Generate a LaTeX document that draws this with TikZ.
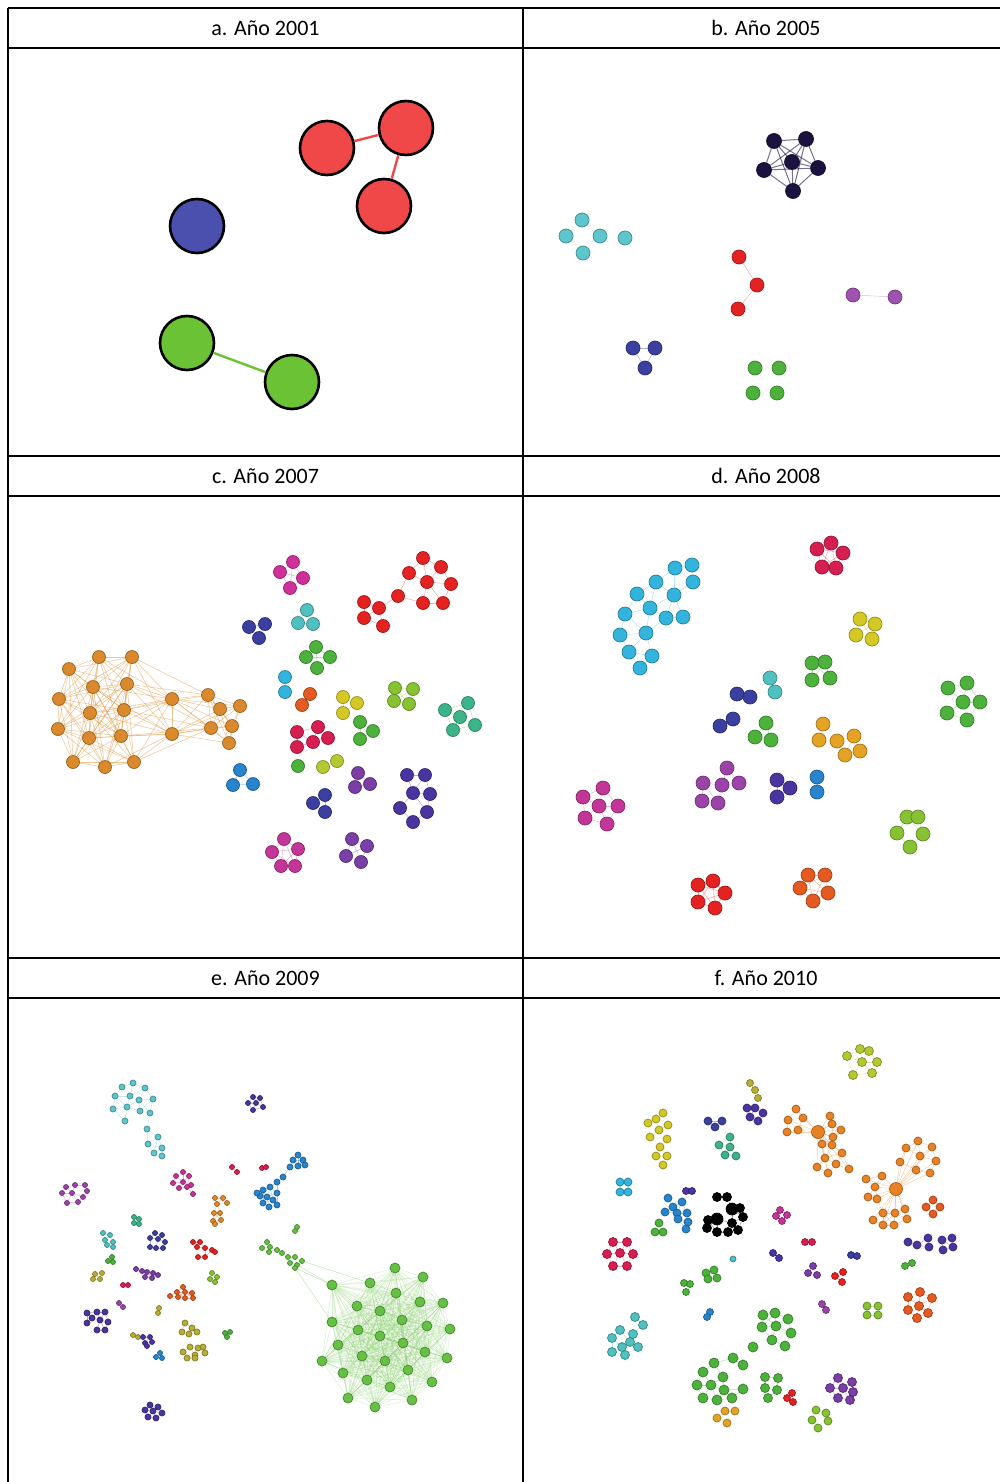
\documentclass[tikz,border=0pt]{standalone}
\usepackage{fontspec}
\setmainfont{Carlito}
\usepackage{tikz}
\pgfdeclarelayer{background}
\pgfsetlayers{background,main}

\definecolor{aRed}{HTML}{F04848}
\definecolor{aBlue}{HTML}{4B50AE}
\definecolor{aGreen}{HTML}{6CC235}
\definecolor{nNavy}{HTML}{1C1240}
\definecolor{nCyan}{HTML}{5CC6CC}
\definecolor{nRed}{HTML}{E52222}
\definecolor{nMag}{HTML}{A052B0}
\definecolor{nBlue}{HTML}{3A3FA0}
\definecolor{nGreen}{HTML}{4CB23C}
\definecolor{nOrange}{HTML}{DA8A2C}
\definecolor{nPink}{HTML}{D0309A}
\definecolor{nTeal}{HTML}{50C0C0}
\definecolor{nSky}{HTML}{33B4DD}
\definecolor{nVerm}{HTML}{E45A20}
\definecolor{nYellow}{HTML}{D4C824}
\definecolor{nLime}{HTML}{86C232}
\definecolor{nSea}{HTML}{3CB489}
\definecolor{nCrim}{HTML}{D61F50}
\definecolor{nYG}{HTML}{B5C832}
\definecolor{nAzure}{HTML}{2884CC}
\definecolor{nPurple}{HTML}{7A3EA6}
\definecolor{nViolet}{HTML}{9A44A8}
\definecolor{nIndigo}{HTML}{4A34A0}
\definecolor{nMagenta}{HTML}{C43598}
\definecolor{nGold}{HTML}{E4A324}
\definecolor{nOlive}{HTML}{B8AE34}
\definecolor{nFlame}{HTML}{E88224}
\definecolor{nGrass}{HTML}{66C044}

\tikzset{
  dot/.style={circle, inner sep=0pt, fill=#1, draw=#1!70!black, line width=0.7pt},
  bigdot/.style={circle, inner sep=0pt, minimum size=54pt, fill=#1, draw=black, line width=2.6pt},
  link/.style={draw=#1, line width=0.5pt, opacity=0.4},
  biglink/.style={draw=#1, line width=2.4pt},
  rule/.style={line width=1.1pt},
  head/.style={font=\fontsize{22}{26}\selectfont, inner sep=0pt}
}

% [#1 link options] #2 name, #3 colour, #4 size, #5 link range, #6 x/y list
\newcommand{\grp}[6][]{%
  \foreach [count=\i] \xa/\ya in {#6} {\node[dot=#3, minimum size=#4pt] (#2-\i) at (\xa,\ya) {};}
  \begin{pgfonlayer}{background}
  \foreach [count=\i] \xa/\ya in {#6} {
    \foreach [count=\j] \xb/\yb in {#6} {
      \ifnum\j>\i
        \pgfmathsetmacro{\dd}{veclen(\xa-\xb,\ya-\yb)}
        \ifdim\dd pt<#5pt \draw[link=#3, #1] (#2-\i) -- (#2-\j); \fi
      \fi
    }
  }
  \end{pgfonlayer}
}

\begin{document}
\begin{tikzpicture}[x=1pt,y=-1pt]
\useasboundingbox (0,0) rectangle (1000,1482);

\draw[rule] (8,8) -- (1000,8);
\draw[rule] (8,48) -- (1000,48);
\draw[rule] (8,456) -- (1000,456);
\draw[rule] (8,496) -- (1000,496);
\draw[rule] (8,958) -- (1000,958);
\draw[rule] (8,998) -- (1000,998);
\draw[rule] (8,8) -- (8,1482);
\draw[rule] (523,8) -- (523,1482);

\node[head] (ha) at (265.5,28) {a. Año 2001};
\node[head] (hb) at (766,28) {b. Año 2005};
\node[head] (hc) at (265.5,476) {c. Año 2007};
\node[head] (hd) at (766,476) {d. Año 2008};
\node[head] (he) at (265.5,978) {e. Año 2009};
\node[head] (hf) at (766,978) {f. Año 2010};

% a
\node[bigdot=aRed] (ar1) at (327,148) {};
\node[bigdot=aRed] (ar2) at (406,128) {};
\node[bigdot=aRed] (ar3) at (384,206) {};
\node[bigdot=aBlue] (ab) at (197,226) {};
\node[bigdot=aGreen] (ag1) at (187,343) {};
\node[bigdot=aGreen] (ag2) at (292,382) {};
\draw[biglink=aRed] (ar1) -- (ar2);
\draw[biglink=aRed] (ar2) -- (ar3);
\draw[biglink=aGreen] (ag1) -- (ag2);

% b
\grp[opacity=0.6, line width=1pt]{bk}{nNavy}{15}{60}{774/141,806/139,792/162,764/170,818/168,793/191}
\grp{bc}{nCyan}{14}{0}{582/220,566/236,600/236,625/238,583/253}
\grp{br}{nRed}{14}{35}{739/257,757/285,738/309}
\grp{bm}{nMag}{14}{50}{853/295,895/297}
\grp{bb}{nBlue}{14}{25}{633/348,655/348,645/368}
\grp{bg}{nGreen}{14}{0}{755/368,779/368,753/393,777/393}

% c
\grp[opacity=0.5]{co}{nOrange}{13}{95}{69/669,99/657,132/657,93/687,127/684,59/699,90/713,124/710,58/729,89/738,121/736,73/762,105/767,134/762,172/699,172/734,208/695,220/709,240/706,211/728,232/726,229/743}
\grp{cp}{nPink}{13}{30}{280/572,293/562,303/578,290/588}
\grp{cr}{nRed}{13}{30}{423/558,441/567,409/573,427/582,451/584,398/596,423/603,443/603,364/602,379/608,364/618,383/626}
\grp{cb}{nBlue}{13}{25}{249/627,265/624,259/638}
\grp{ct}{nTeal}{13}{25}{307/610,298/623,313/624}
\grp{cg}{nGreen}{13}{25}{316/647,330/657,306/657,317/668}
\grp{cs}{nSky}{13}{20}{285/677,285/692}
\grp{cv}{nVerm}{13}{20}{310/694,302/705}
\grp{cy}{nYellow}{13}{20}{343/697,357/703,343/713}
\grp{cgb}{nGreen}{13}{20}{360/722,373/731,360/739}
\grp{cl}{nLime}{13}{25}{395/688,413/689,394/701,409/704}
\grp{cs2}{nSea}{13}{25}{468/703,445/710,460/717,475/725,453/730}
\grp{cc}{nCrim}{13}{25}{297/732,318/727,328/738,313/742,297/747}
\grp{cgc}{nGreen}{13}{0}{298/766}
\grp{cyg}{nYG}{13}{20}{323/767,337/761}
\grp{ca}{nAzure}{13}{25}{240/770,233/785,253/784}
\grp{cu}{nPurple}{13}{25}{358/773,355/787,370/784}
\grp{ci}{nIndigo}{13}{25}{407/775,425/775,413/793,430/794,400/808,427/812,413/822}
\grp{cb2}{nBlue}{13}{25}{325/795,313/803,325/812}
\grp{cm}{nMagenta}{13}{30}{284/839,298/849,272/852,295/866,281/866}
\grp{cu2}{nPurple}{13}{30}{352/839,367/846,346/856,361/862}

% d
\grp{dk}{nCrim}{14}{30}{831/543,817/549,843/553,822/567,836/568}
\grp{dc}{nSky}{14}{30}{675/568,692/565,656/582,693/582,637/594,674/595,650/608,666/618,683/617,625/614,620/635,646/633,629/652,652/656,640/668}
\grp{dy}{nYellow}{14}{25}{860/619,875/624,856/635,872/639}
\grp{dg}{nGreen}{14}{25}{812/663,825/662,812/680,830/678}
\grp{dg2}{nGreen}{14}{25}{948/688,967/683,963/702,980/702,947/713,967/720}
\grp{dt}{nTeal}{14}{20}{770/678,775/692}
\grp{dn}{nBlue}{14}{20}{737/694,750/697}
\grp{dn2}{nBlue}{14}{20}{720/726,733/719}
\grp{dg3}{nGreen}{14}{25}{766/723,755/737,771/740}
\grp{do}{nGold}{14}{22}{823/724,819/740,837/741,854/736,845/755,860/751}
\grp{du}{nViolet}{14}{25}{727/768,703/783,722/785,739/783,702/801,718/803}
\grp{du2}{nIndigo}{14}{25}{777/780,790/788,777/797}
\grp{da}{nAzure}{14}{20}{817/777,817/792}
\grp{dm}{nMagenta}{14}{25}{603/788,583/797,599/806,618/806,585/818,607/824}
\grp{dl}{nLime}{14}{25}{907/817,918/817,897/833,923/834,910/847}
\grp{dr}{nRed}{14}{30}{698/885,713/881,725/893,698/902,715/908}
\grp{dv}{nVerm}{14}{30}{808/875,825/875,800/888,828/893,813/901}

% e
\grp{ec}{nCyan}{6}{18}{133/1083,122/1087,145/1088,115/1096,130/1096,139/1100,153/1099,113/1109,127/1107,140/1111,150/1113,125/1121,147/1129,158/1137,148/1144,162/1148,154/1153,162/1156}
\grp{en}{nIndigo}{5}{12}{253/1097,260/1098,248/1103,256/1103,263/1107,253/1110}
\grp{eu}{nViolet}{5}{12}{66/1187,75/1185,85/1185,62/1193,72/1193,87/1191,67/1203,78/1202,83/1197}
\grp{em}{nMagenta}{5}{12}{183/1172,176/1176,189/1176,173/1183,183/1182,191/1185,179/1188,187/1187,193/1194}
\grp{er}{nCrim}{5}{10}{232/1167,237/1172}
\grp{erb}{nCrim}{5}{10}{262/1168,266/1167}
\grp{ea}{nAzure}{6}{14}{298/1155,293/1160,303/1160,290/1167,298/1166,305/1165,283/1177,277/1182,270/1187,263/1190,260/1196,267/1197,277/1193,273/1200,263/1203,269/1207,277/1205,257/1193}
\grp{eo}{nOrange}{5}{12}{215/1198,223/1198,217/1204,227/1203,214/1213,220/1213,213/1221,221/1220,215/1224}
\grp{et}{nSea}{5}{8}{134/1217,139/1219,134/1223,139/1224}
\grp{etb}{nTeal}{5}{10}{103/1233,110/1235,105/1240,113/1242,107/1245,113/1247}
\grp{eb}{nBlue}{5}{10}{155/1233,162/1235,150/1238,158/1239,165/1242,150/1247,156/1248,163/1248}
\grp{er3}{nRed}{5}{10}{193/1242,200/1242,197/1247,205/1248,212/1250,198/1257,205/1257,215/1252}
\grp{eg}{nGrass}{5}{8}{297/1227,295/1231}
\grp{el}{nGrass}{5}{10}{267/1242,262/1248,270/1247,269/1252,277/1250,282/1253,288/1257,295/1257,290/1263,297/1265,302/1261,295/1268}
\grp{egb}{nGreen}{5}{8}{112/1257,108/1261,113/1262}
\grp{ey}{nOlive}{5}{10}{95/1274,102/1273,93/1279,100/1279}
\grp{ep}{nPurple}{5}{8}{136/1269,142/1271,147/1272,153/1273,158/1275,152/1278,145/1277}
\grp{eo2}{nLime}{5}{8}{212/1273,210/1279,215/1282,217/1277}
\grp{er4}{nCrim}{5}{8}{123/1285,128/1285}
\grp{ev}{nVerm}{5}{10}{183/1287,177/1292,185/1292,192/1293,170/1296,178/1297,185/1298,193/1298}
\grp{ep2}{nViolet}{5}{8}{119/1303,123/1307}
\grp{eo3}{nOlive}{5}{8}{159/1308,158/1313}
\grp{ei}{nIndigo}{6}{12}{87/1313,97/1312,105/1312,92/1318,100/1320,108/1322,87/1323,97/1330,105/1330}
\grp{ey2}{nOlive}{6}{10}{185/1323,192/1328,197/1332,182/1332,189/1334,190/1347,198/1348,203/1347,183/1352,195/1355,205/1353,187/1358,195/1358}
\grp{eg3}{nGreen}{5}{8}{225/1333,230/1332,227/1337}
\grp{eo4}{nOlive}{5}{8}{133/1335,138/1337}
\grp{ei2}{nIndigo}{5}{8}{143/1337,150/1337,145/1343,152/1342,147/1346}
\grp{ea2}{nAzure}{5}{8}{160/1353,156/1357,162/1358}
\grp{ep3}{nIndigo}{6}{10}{150/1405,158/1407,145/1410,153/1411,162/1413,148/1417,156/1418}
\grp[opacity=0.3, draw=nGrass!80]{eG}{nGrass}{10}{140}{395/1268,423/1277,370/1283,332/1285,396/1293,420/1302,443/1303,357/1306,380/1311,402/1320,332/1322,427/1326,358/1330,380/1336,403/1343,450/1329,338/1345,425/1352,447/1358,362/1356,385/1361,322/1361,408/1370,432/1382,343/1373,367/1380,390/1387,412/1400,348/1398,375/1407}
\begin{pgfonlayer}{background}
\draw[link=nGrass] (el-10) -- (eG-4);
\draw[link=nGrass] (el-12) -- (eG-4);
\draw[link=nGrass] (el-11) -- (eG-3);
\draw[link=nGrass] (el-12) -- (eG-11);
\end{pgfonlayer}

% f
\grp{fl}{nYG}{9}{20}{847/1056,860/1049,869/1051,862/1062,877/1062,853/1075,872/1073}
\grp{fo3}{nOlive}{7}{10}{750/1083,755/1090,758/1098}
\grp{fp}{nIndigo}{8}{12}{747/1108,755/1108,763/1113,750/1117,758/1121}
\grp{fy}{nYellow}{8}{12}{663/1113,656/1119,648/1123,668/1125,659/1130,650/1137,667/1139,660/1147,656/1156,667/1156,663/1165}
\grp{fn}{nBlue}{8}{16}{708/1121,722/1121,715/1127}
\grp{ft}{nSea}{8}{14}{730/1137,719/1145,730/1147,725/1155,736/1156}
\grp{fo}{nFlame}{8}{18}{818/1132,896/1189,796/1109,788/1120,803/1118,787/1132,798/1130,830/1116,832/1124,841/1130,833/1137,822/1144,832/1145,842/1153,825/1158,836/1164,817/1167,828/1173,849/1169,866/1179,882/1176,875/1187,868/1197,877/1199,906/1148,918/1141,932/1147,900/1162,920/1156,936/1161,916/1170,930/1173,883/1213,895/1213,905/1209,873/1220,883/1225,894/1225,907/1219}
\node[dot=nFlame, minimum size=13pt] (foh1) at (fo-1) {};
\node[dot=nFlame, minimum size=13pt] (foh2) at (fo-2) {};
\begin{pgfonlayer}{background}
\foreach \k in {3,...,19} \draw[link=nFlame] (foh1) -- (fo-\k);
\foreach \k in {20,...,39} \draw[link=nFlame] (foh2) -- (fo-\k);
\end{pgfonlayer}
\grp{fv}{nVerm}{8}{12}{933/1200,926/1207,940/1207,933/1214}
\grp{fc}{nSky}{8}{12}{620/1182,628/1182,620/1192,628/1192}
\grp{fn2}{nIndigo}{7}{8}{686/1191,692/1191}
\grp{fa}{nAzure}{8}{14}{668/1198,682/1202,673/1207,665/1212,677/1213,687/1213,678/1219,688/1222,686/1229}
\grp{fg}{nGreen}{8}{10}{659/1223,655/1232,663/1232}
\grp{fk}{black}{9}{16}{717/1197,727/1197,732/1209,717/1219,740/1208,708/1220,732/1223,743/1217,707/1228,717/1232,728/1232,738/1230}
\node[dot=black, minimum size=12pt] (fkh1) at (fk-4) {};
\node[dot=black, minimum size=12pt] (fkh2) at (fk-3) {};
\grp{fm}{nMagenta}{7}{10}{780/1210,776/1216,787/1215,782/1221}
\grp{fr}{nCrim}{9}{16}{613/1242,627/1242,607/1254,620/1253,633/1254,613/1266,627/1266}
\grp{fi}{nIndigo}{8}{14}{908/1242,917/1245,928/1238,929/1247,942/1240,943/1250,952/1238,953/1247}
\grp{fm2}{nCrim}{7}{10}{805/1242,812/1242}
\grp{fn3}{nIndigo}{7}{10}{773/1253,779/1258}
\grp{fn4}{nBlue}{7}{10}{851/1255,857/1256}
\grp{ft2}{nTeal}{6}{0}{733/1259}
\grp{fg2}{nGreen}{7}{10}{905/1266,912/1263}
\grp{fp2}{nPurple}{7}{10}{813/1266,808/1273,817/1275}
\grp{fr2}{nRed}{7}{10}{843/1272,835/1276,842/1282}
\grp{fg3}{nGreen}{8}{12}{714/1270,706/1273,708/1279,717/1278}
\grp{fg4}{nGreen}{7}{10}{684/1283,690/1284,686/1292}
\grp{fr3}{nVerm}{9}{16}{920/1292,908/1297,932/1298,919/1306,908/1310,928/1313,917/1318}
\grp{fl2}{nLime}{8}{12}{867/1306,878/1306,867/1315,878/1315}
\grp{fp3}{nViolet}{7}{8}{822/1304,826/1310}
\grp{fb}{nAzure}{7}{8}{710/1312,707/1317}
\grp{ft3}{nTeal}{9}{16}{635/1317,643/1325,620/1330,633/1334,612/1338,630/1342,622/1347,638/1347,612/1352,625/1355}
\grp{fG}{nGreen}{10}{20}{763/1315,775/1313,788/1319,762/1327,776/1326,791/1333,772/1340,785/1346,753/1347,733/1358,743/1365,714/1363,723/1377,703/1372,697/1385,711/1385,724/1390,743/1389,703/1398,717/1400,732/1398}
\grp{fg5}{nGreen}{9}{14}{765/1377,778/1378,765/1388,777/1390,768/1398}
\grp{fr4}{nRed}{7}{8}{792/1393,787/1398,793/1402}
\grp{fp4}{nPurple}{9}{14}{838/1378,852/1382,830/1388,843/1388,853/1392,838/1398,850/1400}
\grp{fl3}{nLime}{8}{12}{816/1410,826/1413,812/1420,828/1421,818/1428}
\grp{fo5}{nGold}{8}{12}{725/1411,735/1411,717/1418,727/1423}
\end{tikzpicture}
\end{document}
